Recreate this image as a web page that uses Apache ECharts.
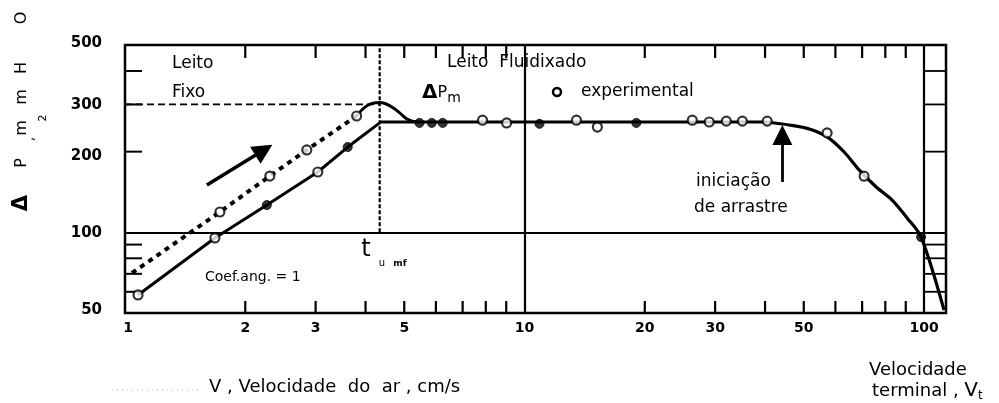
<!DOCTYPE html>
<html>
<head>
<meta charset="utf-8">
<script src="https://cdn.jsdelivr.net/npm/echarts@6/dist/echarts.min.js"></script>
<style>
html,body{margin:0;padding:0;background:#fff;}
#chart{width:999px;height:403px;}
</style>
</head>
<body>
<div id="chart"></div>
<script>
// ---- axis ticks / labels ----
const X_MIN = 1, X_MAX = 113.5, Y_MIN = 50, Y_MAX = 500;
const xLabelValues = [1, 2, 3, 5, 10, 20, 30, 50, 100];
const xTickValues = [2, 3, 4, 5, 6, 7, 8, 9, 20, 30, 40, 50, 60, 70, 80, 90];
const yLabelValues = [50, 100, 200, 300, 500];
const yTickValues = [60, 70, 80, 90, 200, 300, 400];
const xGridValues = [10, 100];
const yGridValues = [100];

// ---- curves (V cm/s, deltaP mm H2O) ----
const fixedLowerV  = [1.078, 1.679, 2.265, 3.038, 3.61, 4.34];
const fixedLowerDP = [58.4, 95.3, 126.4, 167.9, 208.1, 256];
const fixedUpperV  = [1.041, 1.728, 2.304, 2.851, 3.80];
const fixedUpperDP = [70.5, 119.1, 162.2, 202.9, 271.7];
const humpV  = [3.80, 4.05, 4.34, 4.65, 4.87, 5.1, 5.35];
const humpDP = [271.7, 298, 305, 294, 279, 264, 258];
const plateauV  = [4.34, 40.5];
const plateauDP = [258, 258];
const dragV  = [40.5, 45.96, 51.6, 57.2, 63.1, 68.8, 75.9, 83.2, 90.7, 98.3, 112.2];
const dragDP = [258, 251.5, 243, 227, 199.4, 170.9, 147.6, 132, 113.2, 96.1, 51.3];

// ---- experimental points ----
const openV  = [1.078, 1.679, 3.038, 1.728, 2.304, 2.851, 3.80, 7.85, 9.02, 13.49, 15.22, 26.3, 29.0, 32.0, 35.1, 40.5, 57.2, 70.8];
const openDP = [58.4, 95.3, 167.9, 119.1, 162.2, 202.9, 271.7, 262, 256, 262, 247, 262, 258, 260, 260, 260, 235, 162];
const filledV  = [2.265, 3.61, 5.46, 5.86, 6.24, 10.9, 19.05, 98.3];
const filledDP = [126.4, 208.1, 256, 256, 256, 254, 256, 96];

// ---- reference lines / arrows ----
const umf = 4.34;
const deltaPmRef = 300;
const arrowLeft  = [[1.603, 150.2], [2.226, 202.9]];
const arrowRight = [[44.2, 154.1], [44.2, 230.8]];

const zip = (a, b) => a.map((v, i) => [v, b[i]]);
const FONT = 'DejaVu Sans';

const chart = echarts.init(document.getElementById('chart'), null, {renderer: 'canvas'});

function txt(x, y, text, size, opts) {
  opts = opts || {};
  return {
    type: 'text', x: x, y: y, rotation: opts.rotation || 0,
    style: {
      text: text, fill: '#000', fontFamily: FONT, fontSize: size,
      fontWeight: opts.weight || 'normal',
      align: opts.align || 'left', verticalAlign: 'middle',
      rich: opts.rich
    }
  };
}

const R = Math.PI / 2;
const graphics = [
  txt(172, 64, 'Leito', 17),
  txt(172, 93, 'Fixo', 17),
  txt(447, 63, 'Leito  Fluidixado', 17),
  txt(422, 93, '{d|Δ}{p|P}{s|m}', 17, {rich: {
    d: {fontFamily: FONT, fontSize: 20, fontWeight: 'bold', fill: '#000'},
    p: {fontFamily: FONT, fontSize: 16, fill: '#000'},
    s: {fontFamily: FONT, fontSize: 14, fill: '#000', padding: [10, 0, 0, 0]}
  }}),
  {type: 'circle', shape: {cx: 557, cy: 92, r: 4}, style: {fill: '#fff', stroke: '#000', lineWidth: 2.5}},
  txt(581, 92, 'experimental', 17),
  txt(696, 182, 'iniciação', 17),
  txt(694, 208, 'de arrastre', 17),
  txt(205, 277, 'Coef.ang. = 1', 14),
  txt(366, 250, 't', 24, {align: 'center'}),
  txt(382, 263, 'u', 10, {align: 'center'}),
  txt(400, 264, 'mf', 9, {align: 'center', weight: 'bold'}),
  // y axis title (rotated characters)
  txt(22, 18, 'O', 16, {rotation: R, align: 'center'}),
  txt(22, 68, 'H', 16, {rotation: R, align: 'center'}),
  txt(22, 97, 'm', 16, {rotation: R, align: 'center'}),
  txt(43, 118, '2', 11, {rotation: R, align: 'center'}),
  txt(22, 128, 'm', 16, {rotation: R, align: 'center'}),
  txt(29, 139, ',', 14, {rotation: R, align: 'center'}),
  txt(22, 163, 'P', 16, {rotation: R, align: 'center'}),
  txt(22, 203, 'Δ', 21, {rotation: R, align: 'center', weight: 'bold'}),
  // x titles
  {type: 'line', shape: {x1: 112, y1: 390, x2: 198, y2: 390}, style: {stroke: '#aaa', lineWidth: 1, lineDash: [1, 4]}},
  txt(209, 387, 'V , Velocidade  do  ar , cm/s', 18),
  txt(869, 370, 'Velocidade', 18),
  txt(872, 391, '{a|terminal , }{v|V}{t|t}', 18, {rich: {
    a: {fontFamily: FONT, fontSize: 18, fill: '#000'},
    v: {fontFamily: FONT, fontSize: 20, fill: '#000'},
    t: {fontFamily: FONT, fontSize: 12, fill: '#000', padding: [10, 0, 0, 0]}
  }})
];

function lineSeries(v, dp, extra) {
  return Object.assign({
    type: 'line', data: zip(v, dp), showSymbol: false, symbol: 'none',
    lineStyle: {color: '#000', width: 3}, z: 3, silent: true
  }, extra || {});
}

const option = {
  animation: false,
  grid: {left: 125, right: 53, top: 45, bottom: 90, show: true, borderColor: '#000', borderWidth: 2.5, backgroundColor: 'transparent'},
  xAxis: {type: 'log', logBase: 10, min: X_MIN, max: X_MAX,
    axisLine: {show: false}, axisTick: {show: false}, axisLabel: {show: false}, splitLine: {show: false}},
  yAxis: {type: 'log', logBase: 10, min: Y_MIN, max: Y_MAX,
    axisLine: {show: false}, axisTick: {show: false}, axisLabel: {show: false}, splitLine: {show: false}},
  graphic: graphics,
  series: [
    // grid lines (x = 10, 100 ; y = 100)
    {type: 'line', data: [], silent: true,
      markLine: {silent: true, symbol: 'none', label: {show: false},
        lineStyle: {color: '#000', type: 'solid', width: 2.2},
        data: xGridValues.map(v => ({xAxis: v})).concat(yGridValues.map(v => ({yAxis: v, lineStyle: {width: 1.8}})))}},
    // x ticks (bottom + top)
    {type: 'custom', clip: false, silent: true, z: 4,
      data: xTickValues.map(v => [v, Y_MIN]),
      renderItem: function (params, api) {
        const v = api.value(0);
        const b = api.coord([v, Y_MIN]);
        const t = api.coord([v, Y_MAX]);
        return {type: 'group', children: [
          {type: 'line', shape: {x1: b[0], y1: b[1], x2: b[0], y2: b[1] - 12}, style: {stroke: '#000', lineWidth: 2.2}},
          {type: 'line', shape: {x1: t[0], y1: t[1], x2: t[0], y2: t[1] + 13}, style: {stroke: '#000', lineWidth: 2.2}}
        ]};
      }},
    // y ticks (left + right strip)
    {type: 'custom', clip: false, silent: true, z: 4,
      data: yTickValues.map(v => [X_MIN, v]),
      renderItem: function (params, api) {
        const v = api.value(1);
        const l = api.coord([X_MIN, v]);
        const a = api.coord([100, v]);
        const r = api.coord([X_MAX, v]);
        return {type: 'group', children: [
          {type: 'line', shape: {x1: l[0], y1: l[1], x2: l[0] + 17, y2: l[1]}, style: {stroke: '#000', lineWidth: 2}},
          {type: 'line', shape: {x1: a[0], y1: a[1], x2: r[0], y2: r[1]}, style: {stroke: '#000', lineWidth: 1.8}}
        ]};
      }},
    // x labels
    {type: 'custom', clip: false, silent: true,
      data: xLabelValues.map(v => [v, Y_MIN]),
      renderItem: function (params, api) {
        const v = api.value(0);
        const b = api.coord([v, Y_MIN]);
        return {type: 'text', x: b[0] + (v === 1 ? 3 : 0), y: b[1] + 15,
          style: {text: String(v), fill: '#000', fontFamily: FONT, fontSize: 14, fontWeight: 'bold', align: 'center', verticalAlign: 'middle'}};
      }},
    // y labels
    {type: 'custom', clip: false, silent: true,
      data: yLabelValues.map(v => [X_MIN, v]),
      renderItem: function (params, api) {
        const v = api.value(1);
        const p = api.coord([X_MIN, v]);
        const dy = v === 500 ? -2 : (v === 50 ? -3 : (v === 200 ? 4 : 1));
        return {type: 'text', x: p[0] - 23, y: p[1] + dy,
          style: {text: String(v), fill: '#000', fontFamily: FONT, fontSize: 15, fontWeight: 'bold', align: 'right', verticalAlign: 'middle'}};
      }},
    // reference dashed lines
    lineSeries([X_MIN, umf], [deltaPmRef, deltaPmRef], {lineStyle: {color: '#000', width: 1.8, type: [7, 4]}}),
    lineSeries([umf, umf], [100, Y_MAX], {lineStyle: {color: '#000', width: 2.2, type: [4, 2]}}),
    // curves
    lineSeries(fixedLowerV, fixedLowerDP),
    lineSeries(fixedUpperV, fixedUpperDP, {lineStyle: {color: '#000', width: 4, type: [5, 5]}}),
    lineSeries(humpV, humpDP, {smooth: 0.4}),
    lineSeries(plateauV, plateauDP),
    lineSeries(dragV, dragDP, {smooth: 0.3, lineStyle: {color: '#000', width: 3.2}}),
    // arrows
    {type: 'line', data: [], silent: true,
      markLine: {silent: true, symbol: ['none', 'triangle'], symbolSize: 20, label: {show: false},
        lineStyle: {color: '#000', type: 'solid', width: 3.5},
        itemStyle: {color: '#000'},
        data: [
          [{coord: arrowLeft[0]}, {coord: arrowLeft[1]}],
          [{coord: arrowRight[0], lineStyle: {width: 2.8}}, {coord: arrowRight[1]}]
        ]}},
    // markers
    {type: 'scatter', data: zip(openV, openDP), symbol: 'circle', symbolSize: 9, z: 5, silent: true,
      itemStyle: {color: '#fff', borderColor: '#000', borderWidth: 2.2}},
    {type: 'scatter', data: zip(filledV, filledDP), symbol: 'circle', symbolSize: 9, z: 5, silent: true,
      itemStyle: {color: '#000', borderColor: '#000', borderWidth: 1}}
  ]
};
chart.setOption(option);
</script>
</body>
</html>
